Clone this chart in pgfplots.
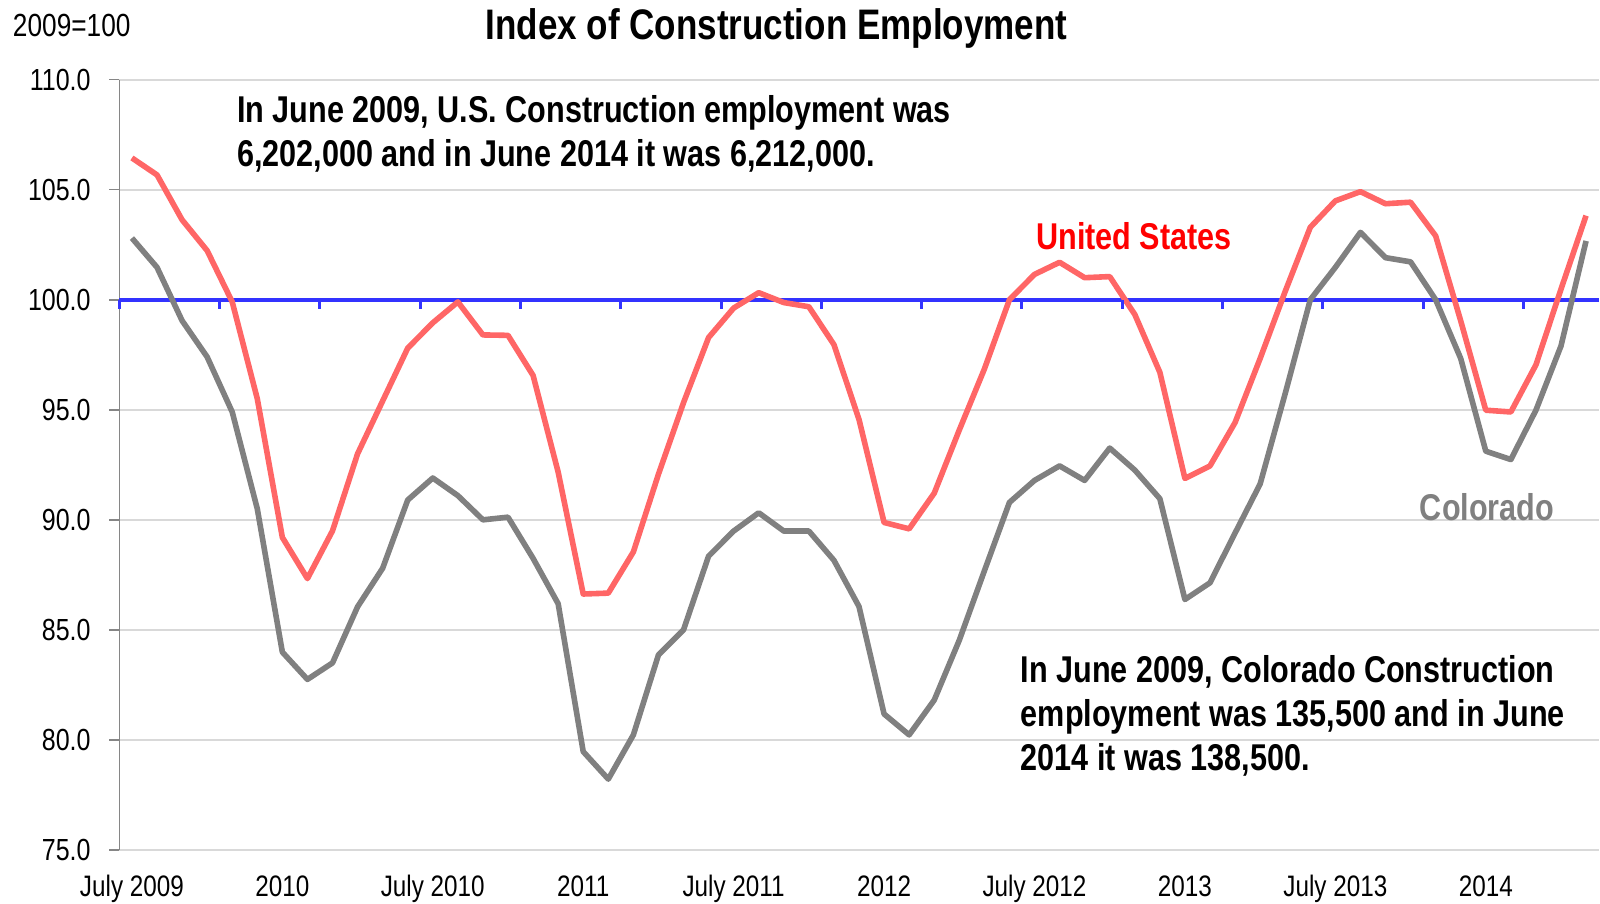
\documentclass[border=0pt]{standalone}
\usepackage{fontspec}
\setmainfont{Liberation Sans}[FakeStretch=0.82]
\usepackage{pgfplots}
\pgfplotsset{compat=1.18}
\definecolor{usred}{RGB}{255,102,102}
\definecolor{cogray}{RGB}{128,128,128}
\definecolor{gridgray}{RGB}{217,217,217}
\definecolor{axblue}{RGB}{51,51,255}
\definecolor{axgray}{RGB}{134,134,134}
\pgfplotstableread{
i us co
0 106.44 102.80
1 105.67 101.47
2 103.63 99.05
3 102.23 97.40
4 99.90 94.90
5 95.50 90.50
6 89.20 83.99
7 87.33 82.75
8 89.50 83.50
9 93.00 86.05
10 95.40 87.80
11 97.80 90.90
12 98.95 91.90
13 99.90 91.10
14 98.40 90.00
15 98.38 90.12
16 96.56 88.25
17 92.17 86.19
18 86.63 79.47
19 86.67 78.22
20 88.54 80.23
21 92.07 83.86
22 95.32 85.00
23 98.28 88.35
24 99.62 89.49
25 100.32 90.32
26 99.87 89.49
27 99.68 89.49
28 97.96 88.16
29 94.56 86.06
30 89.88 81.18
31 89.59 80.23
32 91.21 81.81
33 94.08 84.53
34 96.85 87.68
35 100.00 90.79
36 101.15 91.79
37 101.70 92.45
38 101.00 91.79
39 101.05 93.26
40 99.33 92.26
41 96.70 90.96
42 91.88 86.38
43 92.45 87.14
44 94.42 89.40
45 97.33 91.63
46 100.38 95.74
47 103.29 100.00
48 104.49 101.47
49 104.91 103.06
50 104.36 101.91
51 104.43 101.72
52 102.90 100.00
53 99.04 97.33
54 94.98 93.12
55 94.90 92.74
56 97.04 94.98
57 100.48 97.90
58 103.82 102.67
}\datatable
\begin{document}
\begin{tikzpicture}
\useasboundingbox (-59.7pt,-27pt) rectangle (740.3pt,425pt);
\begin{axis}[
  at={(0pt,0pt)}, anchor=south west,
  scale only axis, width=739.6pt, height=385.2pt,
  xmin=-0.5, xmax=58.5, ymin=75, ymax=110,
  ytick={75,80,...,110},
  xtick={0,6,...,54},
  xticklabels={July 2009,2010,July 2010,2011,July 2011,2012,July 2012,2013,July 2013,2014},
  axis y line*=left, axis x line*=bottom,
  x axis line style={draw=gridgray, line width=1pt, -},
  y axis line style={draw=axgray, line width=0.8pt, -},
  ymajorgrids, grid style={gridgray, line width=1pt},
  tick align=outside, major tick length=5pt,
  xtick style={draw=none},
  ytick style={draw=axgray, line width=0.8pt},
  clip=false,
  /pgf/number format/assume math mode=true,
  yticklabel style={font=\fontsize{15.25}{17}\selectfont, inner sep=0pt, anchor=east, xshift=-9.2pt,
    /pgf/number format/.cd, fixed, fixed zerofill, precision=1},
  xticklabel style={font=\fontsize{14.8}{16}\selectfont, inner sep=0pt, anchor=base, yshift=-18pt},
]
\addplot[axblue, line width=2.2pt] coordinates {(-0.5,100) (58.5,100)};
\addplot[axblue, only marks, mark=|, mark size=2.25pt, mark options={line width=1.5pt, yshift=-2.5pt}]
  coordinates {(-0.5,100) (3.5,100) (7.5,100) (11.5,100) (15.5,100) (19.5,100) (23.5,100) (27.5,100) (31.5,100) (35.5,100) (39.5,100) (43.5,100) (47.5,100) (51.5,100) (55.5,100)};
\addplot[cogray, line width=2.8pt, line join=round] table[x=i, y=co] {\datatable};
\addplot[usred, line width=2.8pt, line join=round] table[x=i, y=us] {\datatable};

\node[anchor=base, inner sep=0pt, font=\fontsize{21.35}{24}\selectfont\bfseries] at (axis cs:25.71,111.8) {Index of Construction Employment};
\node[anchor=base west, inner sep=0pt, font=\fontsize{16}{18}\selectfont] at (axis cs:-4.76,111.95) {2009=100};
\node[anchor=base west, inner sep=0pt, font=\fontsize{18.65}{22}\selectfont\bfseries] at (axis cs:4.18,108.07) {In June 2009, U.S. Construction employment was};
\node[anchor=base west, inner sep=0pt, font=\fontsize{18.65}{22}\selectfont\bfseries] at (axis cs:4.18,106.03) {6,202,000 and in June 2014 it was 6,212,000.};
\node[anchor=base west, inner sep=0pt, font=\fontsize{18.65}{22}\selectfont\bfseries] at (axis cs:35.44,82.63) {In June 2009, Colorado Construction};
\node[anchor=base west, inner sep=0pt, font=\fontsize{18.65}{22}\selectfont\bfseries] at (axis cs:35.44,80.63) {employment was 135,500 and in June};
\node[anchor=base west, inner sep=0pt, font=\fontsize{18.65}{22}\selectfont\bfseries] at (axis cs:35.44,78.63) {2014 it was 138,500.};
\node[anchor=base, inner sep=0pt, text=red, font=\fontsize{18.65}{22}\selectfont\bfseries] at (axis cs:39.97,102.26) {United States};
\node[anchor=base, inner sep=0pt, text=cogray, font=\fontsize{18.65}{22}\selectfont\bfseries] at (axis cs:54.05,89.95) {Colorado};
\end{axis}
\end{tikzpicture}
\end{document}
